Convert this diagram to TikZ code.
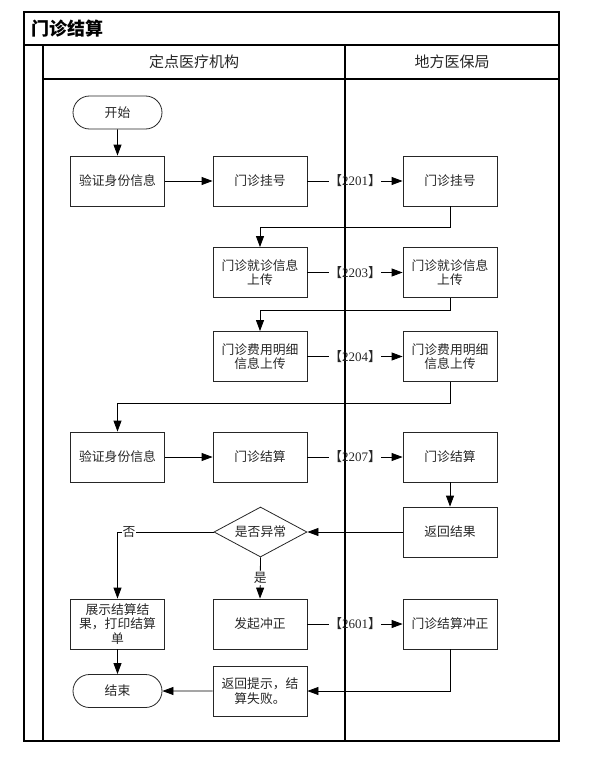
\documentclass[tikz,border=0pt]{standalone}
\usepackage{fontspec}
\setmainfont{Liberation Serif}
\newfontfamily\cjk{Noto Sans CJK SC}
\usetikzlibrary{arrows.meta,shapes.geometric,shapes.misc}
\begin{document}
\begin{tikzpicture}[x=1pt,y=-1pt,
  every node/.style={font=\cjk\fontsize{12.8}{14.5}\selectfont, text=black!85},
  box/.style={draw=black!85, line width=0.8pt, minimum width=94pt, minimum height=50pt, inner sep=1pt, align=center},
  term/.style={draw=black!85, line width=0.8pt, rounded rectangle, minimum width=93pt, minimum height=33pt, inner sep=2pt},
  dia/.style={draw=black!85, line width=0.8pt, diamond, aspect=1.86, minimum width=93pt, minimum height=50pt, inner sep=0pt},
  lab/.style={inner sep=0pt, font=\fontsize{13}{15}\selectfont},
  yn/.style={fill=white, inner sep=1pt},
  frame/.style={line width=1.2pt, draw=black},
  conn/.style={line width=0.8pt, draw=black},
  arr/.style={conn, -{Triangle[length=11pt,width=8pt]}}
]
\useasboundingbox (0,0) rectangle (593,765);
% frame
\draw[frame] (24,12) rectangle (559,741);
\draw[frame] (24,45) -- (559,45);
\draw[frame] (43,45) -- (43,741);
\draw[frame] (43,79) -- (559,79);
\draw[line width=1.5pt] (345,45) -- (345,741);
\node[anchor=west, font=\cjk\bfseries\fontsize{18}{20}\selectfont, text=black] (title) at (28,29) {门诊结算};
\node[font=\cjk\fontsize{15}{17}\selectfont] (h1) at (194,62) {定点医疗机构};
\node[font=\cjk\fontsize{15}{17}\selectfont] (h2) at (452,62) {地方医保局};
% nodes
\node[term] (start) at (117.5,112.5) {开始};
\node[box] (v1) at (117.5,181) {验证身份信息};
\node[box] (gL) at (260,181) {门诊挂号};
\node[box] (gR) at (450,181) {门诊挂号};
\node[lab] (l1) at (355,181) {{\cjk 【}2201{\cjk 】}};
\node[box] (jL) at (260,272.5) {门诊就诊信息\\上传};
\node[box] (jR) at (450,272.5) {门诊就诊信息\\上传};
\node[lab] (l2) at (355,272.5) {{\cjk 【}2203{\cjk 】}};
\node[box] (fL) at (260,356.5) {门诊费用明细\\信息上传};
\node[box] (fR) at (450,356.5) {门诊费用明细\\信息上传};
\node[lab] (l3) at (355,356.5) {{\cjk 【}2204{\cjk 】}};
\node[box] (v2) at (117.5,457) {验证身份信息};
\node[box] (sL) at (260,457) {门诊结算};
\node[box] (sR) at (450,457) {门诊结算};
\node[lab] (l4) at (355,457) {{\cjk 【}2207{\cjk 】}};
\node[box] (ret) at (450,532) {返回结果};
\node[dia] (d) at (260.5,532) {是否异常};
\node[box] (show) at (117.5,624) {展示结算结\\果，打印结算\\单};
\node[box] (fq) at (260,624) {发起冲正};
\node[box] (cz) at (450,624) {门诊结算冲正};
\node[lab] (l5) at (355,624) {{\cjk 【}2601{\cjk 】}};
\node[term] (end) at (117.5,691) {结束};
\node[box] (tip) at (260,691) {返回提示，结\\算失败。};
% connectors
\draw[arr] (start) -- (v1);
\draw[arr] (v1) -- (gL);
\draw[conn] (gL) -- (l1);
\draw[arr] (l1) -- (gR);
\draw[arr] (gR.south) -- ++(0,21) -| (jL.north);
\draw[conn] (jL) -- (l2);
\draw[arr] (l2) -- (jR);
\draw[arr] (jR.south) -- ++(0,12) -| (fL.north);
\draw[conn] (fL) -- (l3);
\draw[arr] (l3) -- (fR);
\draw[arr] (fR.south) -- ++(0,21) -| (v2.north);
\draw[arr] (v2) -- (sL);
\draw[conn] (sL) -- (l4);
\draw[arr] (l4) -- (sR);
\draw[arr] (sR) -- (ret);
\draw[arr] (ret) -- (d);
\draw[arr] (d.west) -| node[yn, pos=0.44] {否} (show.north);
\draw[arr] (d.south) -- node[yn, pos=0.5] {是} (fq.north);
\draw[conn] (fq) -- (l5);
\draw[arr] (l5) -- (cz);
\draw[arr] (cz.south) |- (tip.east);
\draw[arr] (tip) -- (end);
\draw[arr] (show) -- (end);
\end{tikzpicture}
\end{document}
